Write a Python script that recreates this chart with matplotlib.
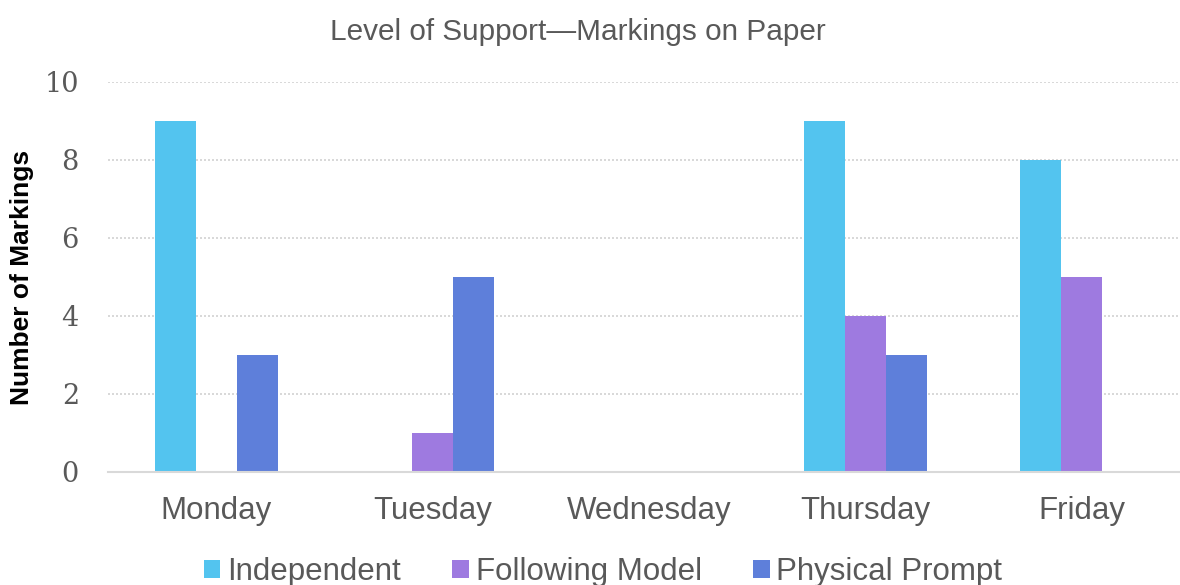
import matplotlib
matplotlib.use("Agg")
import matplotlib.pyplot as plt
import numpy as np

days = ["Monday", "Tuesday", "Wednesday", "Thursday", "Friday"]
series_names = ["Independent", "Following Model", "Physical Prompt"]
independent = [9, 0, 0, 9, 8]
following_model = [0, 1, 0, 4, 5]
physical_prompt = [3, 5, 0, 3, 0]
y_ticks = [0, 2, 4, 6, 8, 10]

colors = ["#53C4EF", "#9E7AE0", "#5E7FDA"]
text_gray = "#595959"
grid_gray = "#D9D9D9"

W, H, DPI = 1180, 585, 100
fig = plt.figure(figsize=(W / DPI, H / DPI), dpi=DPI)

# plot area in pixels: left 108, right 1190 (runs past the canvas edge), top 82, bottom 472
left, right, top, bottom = 108, 1190, 82, 472
ax = fig.add_axes([left / W, (H - bottom) / H, (right - left) / W, (bottom - top) / H])

x = np.arange(len(days))
bw = 0.19
handles = []
for i, (vals, name) in enumerate(zip([independent, following_model, physical_prompt], series_names)):
    h = ax.bar(x + (i - 1) * bw, vals, width=bw, color=colors[i], label=name, zorder=3,
               linewidth=0)
    handles.append(h)

ax.set_xlim(-0.5, len(days) - 0.5)
ax.set_ylim(0, 10)
ax.set_yticks(y_ticks)
ax.set_yticklabels([str(t) for t in y_ticks], family="DejaVu Serif", fontsize=19.5, color=text_gray)
ax.set_xticks(x)
ax.set_xticklabels(days, family="Liberation Sans", fontsize=22.5, color=text_gray)
ax.tick_params(axis="y", length=0, pad=21)
ax.tick_params(axis="x", length=0, pad=17)

for s in ["top", "right", "left"]:
    ax.spines[s].set_visible(False)
ax.spines["bottom"].set_color(grid_gray)
ax.spines["bottom"].set_linewidth(1.5)
ax.spines["bottom"].set_zorder(4)

ax.yaxis.grid(True, color=grid_gray, linestyle=(0, (1, 1)), linewidth=1.44, zorder=0)
ax.set_axisbelow(True)

fig.text(22 / W, 1 - 277.5 / H, "Number of Markings", rotation=90, ha="center", va="center",
         family="Liberation Sans", fontweight="bold", fontsize=19, color="black")

fig.text(577.5 / W, 1 - 40 / H, "Level of Support\u2014Markings on Paper", ha="center",
         va="baseline", family="Liberation Sans", fontsize=21.4, color=text_gray)

leg = fig.legend(handles=handles, labels=series_names, loc="center",
                 bbox_to_anchor=(603 / W, 1 - 572 / H), ncol=3, frameon=False,
                 prop={"family": "Liberation Sans", "size": 22.5},
                 handlelength=0.54, handleheight=0.54, handletextpad=0.22,
                 columnspacing=1.63, borderpad=0, borderaxespad=0)
for t in leg.get_texts():
    t.set_color(text_gray)

fig.savefig("out.png", dpi=DPI)
